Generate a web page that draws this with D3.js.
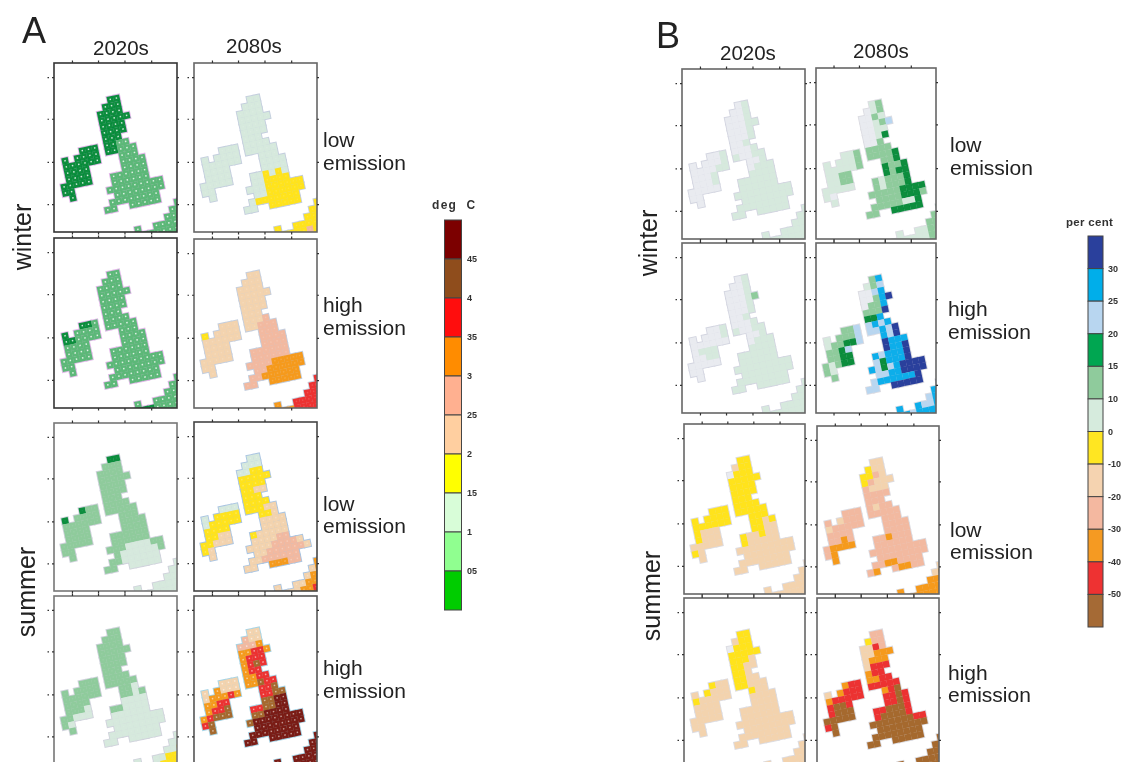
<!DOCTYPE html>
<html lang="en">
<head>
<meta charset="UTF-8">
<title>UK climate scenarios</title>
<script src="https://d3js.org/d3.v7.min.js"></script>
<style>
    body, html { margin: 0; padding: 0; background: #fff; }
    svg { display: block; font-family: "Liberation Sans", Arial, sans-serif; }
</style>
</head>
<body>
<div id="chart"></div>
<script>
// colour classes of the grid cells (one letter per class)
const classColours = {
    g: "#078d3c", h: "#5cb878", m: "#8fcb9c", p: "#d6e9dd", w: "#e9ebf0", y: "#ffe31c", e: "#f3d3ae",
    s: "#f2b9a0", o: "#f59a1e", r: "#ec3230", b: "#a5692f", d: "#7a1c14",
    c: "#10aeea", l: "#b8d6f0", n: "#2b3f9c"
};

// temperature legend (top to bottom)
const tempColours = ["#7b0000", "#8f4e1f", "#ff1010", "#ff8c00", "#ffb090", "#ffcfa0", "#ffff00", "#d8fdd8", "#90ff90", "#00cc00"];
const tempTicks = ["45", "4", "35", "3", "25", "2", "15", "1", "05"];

// precipitation legend (top to bottom)
const rainColours = ["#2b3f9c", "#00aeea", "#b8d6f0", "#00a651", "#8fcb9c", "#d6ebdd", "#ffe620", "#f5d3b0", "#f4b8a0", "#f59a20", "#ee3030", "#a56b35"];
const rainTicks = ["30", "25", "20", "15", "10", "0", "-10", "-20", "-30", "-40", "-50"];

// grid rows 7..30, one string per row, "." is sea
const a1 = ["...........gg","..........ggg",".........gggg",".........ggggg",".........gggg",".........gggg",".........ggg",".....ggg.gghh","..g.gggg.gghhh","..gggggg...hhh","..gggg.....hhhh","..gggg.....hhhh",".ggggg...hhhhhh",".gg......hhhhhh","..g.....hhhhhhhhh",".........hhhhhhhh","........hhhhhhhh",".......hh..hhhhh",
    "..................hhhhhhh",".................hhhhhhhh","................hhhhhhhhh","...........h..hhhhhhhhhhh","..........hhhhhhhhhhhhhhh","..........hhhhhhhhhhhhhhh"];
const a2 = ["...........pp","..........ppp",".........pppp",".........ppppp",".........pppp",".........pppp",".........ppp",".....ppp.pppp","..p.pppp.ppppp","..pppppp...ppp","..pppp.....pppp","..pppp.....pppp",".ppppp...ppypyp",".pp......ppyyyy","..p.....pppyyyyyy",".........ppyyyyyy","........pyyyyyyy",".......pp..yyyyy",
    "..................yyyyyyy",".................yyyyyyyy","................yyyyyyyyy","...........y..yyyyyyyyyyy","..........yyyyyysyyyyyyyy","..........yyyyyyyyyyyyyyy"];
const a3 = ["...........hh","..........hhh",".........hhhh",".........hhhhh",".........hhhh",".........hhhh",".........hhh",".....ggh.hhhh","..g.hhhh.hhhhh","..gghhhh...hhh","..hhhh.....hhhh","..hhhh.....hhhh",".hhhhh...hhhhhh",".hh......hhhhhh","..h.....hhhhhhhhh",".........hhhhhhhh","........hhhhhhhh",".......hh..hhhhh",
    "..................hhhhhhh",".................hhhhhhhh","................hhhhhhhhh","...........h..hhhhhhhhhhh","..........gggghhhhhhhhhhh","..........gggghhhhhhhhhhh"];
const a4 = ["...........ee","..........eee",".........eeee",".........eeeee",".........eeee",".........eeee",".........eee",".....eee.eees","..y.eeee.eesss","..eeeeee...sss","..eeee.....ssss","..eeee.....ssss",".eeeee...ssssss",".ee......ssssss","..e.....ssssooooo",".........ssoooooo","........ssoooooo",".......ss..ooooo",
    "..................rrrrrrr",".................rrrrrrrr","................rrrrrrrrr","...........o..rrrrrrrrrrr","..........oooorrrrrrrrrrr","..........oooorrrrrrrrrrr"];
const a5 = ["...........gg","..........mmm",".........mmmm",".........mmmmm",".........mmmm",".........mmmm",".........mmm",".....gmm.mmmm","..g.mmmm.mmmmm","..mmmmmm...mmm","..mmmm.....mmmm","..mmmm.....mmmm",".mmmmm...mmmmmm",".mm......mmmmmm","..m.....mmmppppmm",".........mppppppm","........mmpppppp",".......mm..ppppp",
    "..................ppppppp",".................pppppppp","................ppppppppp","...........p..ppppppppppp","..........ppppppppppppppp","..........ppppppppppppppp"];
const a6 = ["...........pp","..........ppp",".........ppyy",".........yyyyy",".........yyyy",".........yyee",".........yyy",".....ppp.yyyy","..p.yyyy.yyyee","..pyyyyy...yye","..yyyy.....eeee","..yyee.....eeee",".yyeee...yeeeee",".ye......eeeess","..e.....eeeesssse",".........eesssssse","........eessssss",".......ee..oooss",
    "..................ooooooo",".................eooooooo","................eoooooooo","...........e..eeooooooooo","..........eeeeeoorooooooo","..........eeeeeoooooooooo"];
const a7 = ["...........mm","..........mmm",".........mmmm",".........mmmmm",".........mmmm",".........mmmm",".........mmm",".....mmm.mmmm","..m.mmmm.mmmmm","..mmmmmm...mmp","..mmmm.....mmpm","..mmmp.....pppp",".mmppp...mmpppp",".mp......pppppp","..m.....ppppppppp",".........pppppppp","........pppppppp",".......pp..ppppp",
    "..................ppppppp",".................pppppppp","................ppyyyyyyy","...........p..ppyyyyyyyyy","..........pppppyyyyyyyyyy","..........pppppyyyyyyyyyy"];
const a8 = ["...........ee","..........see",".........ssso",".........oorro",".........orrr",".........orbr",".........orr",".....eee.oorr","..e.oeee.oobrr","..eoooro...rrb","..oorr.....rrbb","..orrb.....bbdd",".orbbb...rrbbdd",".rb......bbdddd","..b.....bdddddddd",".........dddddddd","........dddddddd",".......dd..ddddd",
    "..................ddddddd",".................dddddddd","................ddddddddd","...........d..ddddddddddd","..........ddddddddddddddd","..........ddddddddddddddd"];

const b1 = ["...........wp","..........wwp",".........wwwp",".........wwwpp",".........wwwp",".........wwwp",".........wwp",".....wwp.wwwp","..w.wwwp.pwwpp","..wwwwpp...wwp","..wwwp.....wppp","..wwwp.....pppp",".wwwww...pppppp",".ww......pppppp","..w.....ppppppppp",".........pppppppp","........pppppppp",".......pp..ppppp",
    "..................ppppppp",".................pppppppp","................ppppppppp","...........p..ppppppppppp","..........ppppppppppppppp","..........ppppppppppppppp"];
const b2 = ["...........pm","..........wpm",".........wwmp",".........wwpml",".........wwpp",".........wwpg",".........wwm",".....ppm.mmmm","..p.pppm.mmmmg","..pppppm...mmg","..ppmm.....gmmg","..ppmm.....gmgg",".ppppp...mpmmmg",".pw......mpmmmg","..p.....mmmmmgggg",".........mmmmgggm","........mmmmmppg",".......mm..ggggg",
    "..................gmmmmmm",".................mmmmmmmm","................mmmmmmmmm","...........p..ppmmmmmmmmm","..........ppppppmmmmmmmmm","..........ppppppmmmmmmmmm"];
const b3 = ["...........wp","..........wwp",".........wwwp",".........wwwpm",".........wwwp",".........wwwp",".........wwp",".....wwp.wwwp","..w.wwwp.pwwpp","..wwwwww...wwp","..wppp.....wppp","..wwpp.....pppp",".wwwww...pppppp",".ww......pppppp","..w.....ppppppppp",".........pppppppp","........pppppppp",".......pp..ppppp",
    "..................ppppppp",".................pppppppp","................ppppppppp","...........p..ppppppppppp","..........ppppppppppppppp","..........ppppppppppppppp"];
const b4 = ["...........mc","..........pml",".........wwlc",".........wwmcn",".........wmmc",".........mmmn",".........ggc",".....mml.lclc","..p.mmml.llcln","..pmmggl...cln","..mmgl.....nccc","..mmgg.....nccn",".mpmgg...clcccn",".mp......lgcccn","..m.....clglcnnnn",".........llccnnnn","........lccccccn",".......ll..nnnnn",
    "..................ncccccc",".................cccccccc","................lcccccccc","...........c..cllcccccccc","..........clclccccccccccc","..........ccccccccccccccc"];
const b5 = ["...........yy","..........eyy",".........wyyy",".........yyyyy",".........yyyy",".........yyyy",".........yyy",".....yyy.yyyy","..y.yyyy.yyyyy","..yyyyyy...yyy","..yeee.....yyey","..yeee.....yyee",".eeeee...yeeyee",".ye......yeeeee","..e.....eeeeeeeee",".........eeeeeeee","........eeeeeeee",".......ee..eeeee",
    "..................eeeeeee",".................eeeeeeee","................eeeeeeeee","...........e..eeeeeeeeeee","..........eeeeeeeeeeeeeee","..........eeeeeeeeeeeeeee"];
const b6 = ["...........ee","..........yee",".........yyse",".........yseee",".........seee",".........ssss",".........sss",".....sss.sess","..s.esss.sssss","..esssss...sss","..ssss.....ssss","..ssos.....ssss",".soooo...ssosss",".so......ssssss","..o.....sssssssss",".........ssssssss","........ssoossss",".......so..sooss",
    "..................eeeeeee",".................eooooooo","................ooooooooo","...........o..ooooooooooo","..........ooooooooooooooo","..........ooooooooooooooo"];
const b7 = ["...........yy","..........eyy",".........wyyy",".........yyyyy",".........yyye",".........yyee",".........yye",".....yee.yyee","..e.yeee.yyeee","..yeeeee...yee","..eeee.....eeee","..eeee.....eeee",".eeeee...eeeeee",".ee......eeeeee","..e.....eeeeeeeee",".........eeeeeeee","........eeeeeeee",".......ee..eeeee",
    "..................eeeeeee",".................eeeeeeee","................eeeeeeeee","...........e..eeeeeeeeeee","..........eeeeeeeeeeeeeee","..........eeeeeeeeeeeeeee"];
const b8 = ["...........ss","..........yss",".........eers",".........eeooo",".........eooo",".........errr",".........orr",".....orr.oorr","..e.orrr.rrrrr","..orrrrr...orb","..rbbr.....rrbr","..rbbb.....rrbr",".bbbbb...rrbbbr",".rb......rbbbbr","..b.....bbbbbbbrr",".........bbbbbbbb","........bbbbbbbb",".......bb..bbbbb",
    "..................bbbbbbb",".................bbbbbbbb","................bbbbbbbbb","...........b..bbbbbbbbbbb","..........bbbbbbbbbbbbbbb","..........bbbbbbbbbbbbbbb"];

// panel boxes: x, y, w, h, border, land outline, speck strength
const panels = [
    {d: a1, x: 54, y: 63, w: 123, h: 169, bd: "#333", ol: "#e3b8ea", sp: .8},
    {d: a2, x: 194, y: 63, w: 123, h: 169, bd: "#666", ol: "#c4cede", sp: .12},
    {d: a3, x: 54, y: 238, w: 123, h: 170, bd: "#333", ol: "#e3b8ea", sp: .8},
    {d: a4, x: 194, y: 239, w: 123, h: 169, bd: "#666", ol: "#c4cede", sp: .15},
    {d: a5, x: 54, y: 423, w: 123, h: 168, bd: "#777", ol: "#d0d2dc", sp: .08},
    {d: a6, x: 194, y: 422, w: 123, h: 169, bd: "#444", ol: "#a9c4e2", sp: .25},
    {d: a7, x: 54, y: 596, w: 123, h: 168, bd: "#777", ol: "#d0d2dc", sp: .08},
    {d: a8, x: 194, y: 596, w: 123, h: 168, bd: "#555", ol: "#a6d4e6", sp: .55},
    {d: b1, x: 682, y: 69, w: 123, h: 170, bd: "#666", ol: "#d3d5e0", sp: 0},
    {d: b2, x: 816, y: 68, w: 120, h: 171, bd: "#666", ol: "#dcdce2", sp: 0},
    {d: b3, x: 682, y: 243, w: 123, h: 170, bd: "#666", ol: "#d3d5e0", sp: 0},
    {d: b4, x: 816, y: 243, w: 120, h: 170, bd: "#666", ol: "#dcdce2", sp: 0},
    {d: b5, x: 684, y: 424, w: 121, h: 170, bd: "#666", ol: "#dcdce2", sp: 0},
    {d: b6, x: 817, y: 426, w: 122, h: 168, bd: "#666", ol: "#dcdce2", sp: 0},
    {d: b7, x: 684, y: 598, w: 121, h: 170, bd: "#666", ol: "#dcdce2", sp: 0},
    {d: b8, x: 817, y: 598, w: 122, h: 170, bd: "#666", ol: "#dcdce2", sp: 0}
];

const width = 1132, height = 762;
const cell = 6.33, tilt = -12;

const svg = d3.select("#chart").append("svg")
    .attr("width", width).attr("height", height);

const defs = svg.append("defs");
defs.append("filter").attr("id", "soft")
    .attr("filterUnits", "userSpaceOnUse")
    .attr("x", 0).attr("y", 0)
    .attr("width", width).attr("height", height)
    .append("feGaussianBlur").attr("stdDeviation", 0.55);

const root = svg.append("g").attr("filter", "url(#soft)");

// grid scales, shared by all panels
const colX = d3.scaleBand().domain(d3.range(25)).range([-4 * cell, 21 * cell]);
const rowY = d3.scaleBand().domain(d3.range(7, 31)).range([7 * cell, 31 * cell]);

panels.forEach((p, i) => {
    const g = root.append("g").attr("transform", `translate(${p.x},${p.y})`);
    defs.append("clipPath").attr("id", "clip" + i)
        .append("rect").attr("width", p.w).attr("height", p.h);

    const cells = [];
    p.d.forEach((row, ri) => {
        row.split("").forEach((k, c) => {
            if (k !== ".") cells.push({r: ri + 7, c: c, k: k});
        });
    });

    const map = g.append("g").attr("clip-path", `url(#clip${i})`)
        .append("g").attr("transform", `rotate(${tilt})`);

    // halo round the land first, then the cells over it
    map.selectAll("rect.halo").data(cells).enter().append("rect")
        .attr("class", "halo")
        .attr("x", d => colX(d.c)).attr("y", d => rowY(d.r))
        .attr("width", colX.bandwidth()).attr("height", rowY.bandwidth())
        .attr("fill", p.ol).attr("stroke", p.ol).attr("stroke-width", 2);

    map.selectAll("rect.cell").data(cells).enter().append("rect")
        .attr("class", "cell")
        .attr("x", d => colX(d.c) - 0.1).attr("y", d => rowY(d.r) - 0.1)
        .attr("width", colX.bandwidth() + 0.2).attr("height", rowY.bandwidth() + 0.2)
        .attr("fill", d => classColours[d.k]);

    if (p.sp > 0) {
        map.selectAll("rect.speck").data(cells).enter().append("rect")
            .attr("class", "speck")
            .attr("x", d => colX(d.c) + 2.4).attr("y", d => rowY(d.r) + 2.2)
            .attr("width", 1.5).attr("height", 1.5)
            .attr("fill", "#fff").attr("opacity", p.sp);
    }

    // frame and ticks
    g.append("rect").attr("width", p.w).attr("height", p.h)
        .attr("fill", "none").attr("stroke", p.bd).attr("stroke-width", 1.6);

    const tx = d3.scaleLinear().domain([0, 1]).range([0, p.w]);
    const ty = d3.scaleLinear().domain([0, 1]).range([0, p.h]);
    const xTicks = [0.146, 0.358, 0.573, 0.79], yTicks = [0.083, 0.33, 0.585, 0.835];
    const tick = (sel) => {
        sel.select(".domain").remove();
        sel.selectAll("text").remove();
        sel.selectAll("line").attr("stroke", "#333").attr("stroke-width", 1.2);
    };
    g.append("g").call(d3.axisTop(tx).tickValues(xTicks).tickSize(2.5)).call(tick);
    g.append("g").attr("transform", `translate(0,${p.h})`)
        .call(d3.axisBottom(tx).tickValues(xTicks).tickSize(2.5)).call(tick);
    g.append("g").call(d3.axisLeft(ty).tickValues(yTicks).tickSize(2)).call(tick);
    g.append("g").attr("transform", `translate(${p.w},0)`)
        .call(d3.axisRight(ty).tickValues(yTicks).tickSize(2)).call(tick);
    g.append("g").attr("transform", "translate(-5,0)")
        .call(d3.axisLeft(ty).tickValues(yTicks).tickSize(1.5)).call(tick);
});

// legends
function legend(colours, ticks, x, top, bottom, barW, labelX, title, titleX, titleY, titleSize, spacing) {
    const y = d3.scaleBand().domain(d3.range(colours.length)).range([top, bottom]);
    root.selectAll(null).data(colours).enter().append("rect")
        .attr("x", x).attr("y", (d, i) => y(i))
        .attr("width", barW).attr("height", y.bandwidth())
        .attr("fill", d => d).attr("stroke", "#444").attr("stroke-width", 1);
    root.selectAll(null).data(ticks).enter().append("text")
        .attr("x", labelX).attr("y", (d, i) => y(i + 1) + 3)
        .attr("font-size", 9).attr("font-weight", "bold").attr("fill", "#333")
        .text(d => d);
    root.append("text").attr("x", titleX).attr("y", titleY)
        .attr("font-size", titleSize).attr("font-weight", "bold").attr("fill", "#333")
        .attr("letter-spacing", spacing).style("white-space", "pre").text(title);
}
legend(tempColours, tempTicks, 444.5, 220, 610, 17, 467, "deg  C", 432, 209, 12, 1.3);
legend(rainColours, rainTicks, 1088, 236, 627, 15, 1108, "per cent", 1066, 226, 11.5, 0.3);

// labels
const labels = [
    ["A", 22, 43, 36], ["B", 656, 48, 36],
    ["2020s", 93, 55, 20.5], ["2080s", 226, 53, 20.5], ["2020s", 720, 60, 20.5], ["2080s", 853, 58, 20.5],
    ["low", 323, 147, 21], ["emission", 323, 170, 21], ["high", 323, 312, 21], ["emission", 323, 335, 21],
    ["low", 323, 511, 21], ["emission", 323, 533, 21], ["high", 323, 675, 21], ["emission", 323, 698, 21],
    ["low", 950, 152, 21], ["emission", 950, 175, 21], ["high", 948, 316, 21], ["emission", 948, 339, 21],
    ["low", 950, 537, 21], ["emission", 950, 559, 21], ["high", 948, 680, 21], ["emission", 948, 702, 21]
];
root.selectAll(null).data(labels).enter().append("text")
    .attr("x", d => d[1]).attr("y", d => d[2]).attr("font-size", d => d[3])
    .attr("fill", "#222").text(d => d[0]);

const sideLabels = [["winter", 31, 237], ["summer", 35, 592], ["winter", 657, 243], ["summer", 660, 596]];
root.selectAll(null).data(sideLabels).enter().append("text")
    .attr("transform", d => `translate(${d[1]},${d[2]}) rotate(-90)`)
    .attr("text-anchor", "middle").attr("font-size", 25).attr("fill", "#222")
    .text(d => d[0]);
</script>
</body>
</html>
